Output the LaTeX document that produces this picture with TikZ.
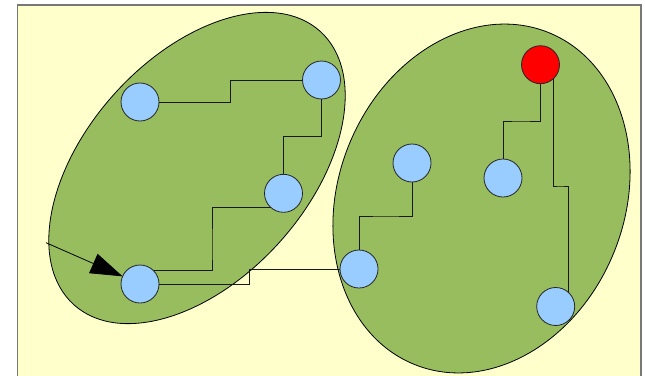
\documentclass[tikz,border=0pt]{standalone}
\usetikzlibrary{arrows.meta}
\definecolor{paper}{RGB}{255,255,204}
\definecolor{leaf}{RGB}{151,189,95}
\definecolor{sky}{RGB}{153,204,255}
\definecolor{frame}{RGB}{120,120,120}
\pgfdeclarelayer{under}
\pgfsetlayers{under,main}
\tikzset{
  blob/.style={draw=black, line width=0.8pt, fill=leaf},
  bub/.style={circle, draw=black!85, line width=0.8pt, fill=sky, minimum size=38pt, inner sep=0pt, outer sep=0pt},
  hot/.style={bub, fill=red},
  wire/.style={draw=black!90, line width=0.9pt},
}
\begin{document}
\begin{tikzpicture}[x=1pt,y=-1pt]
\useasboundingbox (0,0) rectangle (645,375);
\clip (0,0) rectangle (645,375);
% members
\node[bub] (A) at (140,102) {};
\node[bub] (B) at (321.5,80) {};
\node[bub] (C) at (283.5,193.3) {};
\node[bub] (D) at (140,284) {};
\node[bub] (E) at (359,269) {};
\node[bub] (F) at (412,163) {};
\node[bub] (G) at (503,178) {};
\node[hot] (H) at (540.5,64.7) {};
\node[bub] (I) at (555.7,306.5) {};
\begin{pgfonlayer}{under}
% backdrop
\fill[white] (0,0) rectangle (645,375);
\draw[frame, fill=paper, line width=1.3pt] (17.5,5) rectangle (641,390);
% the two regions
\draw[blob, rotate around={48:(197,168)}] (197,168) ellipse [x radius=184, y radius=111];
\draw[blob, rotate around={68:(481.5,198.5)}] (481.5,198.5) ellipse [x radius=179, y radius=143];
% links
\path[wire] (A.east) -| (230.75,90) |- (B.west);
\path[wire] (B.south) |- (300,136.75) -| (C.north);
\path[wire] (C.227) -| (212,250) |- (D.44);
\path[wire] (D.east) -| (249.5,276) |- (E.west);
\path[wire] (E.north) |- (386,216) -| (F.south);
\path[wire] (H.south) |- (520,121) -| (G.north);
\path[wire] (H.-47) |- (560,186) -| (I.46);
\end{pgfonlayer}
% entry arrow
\coordinate (start) at (46,242.7);
\draw[line width=0.8pt, -{Triangle[length=32pt,width=21pt]}] (start) -- (D);
\end{tikzpicture}
\end{document}
